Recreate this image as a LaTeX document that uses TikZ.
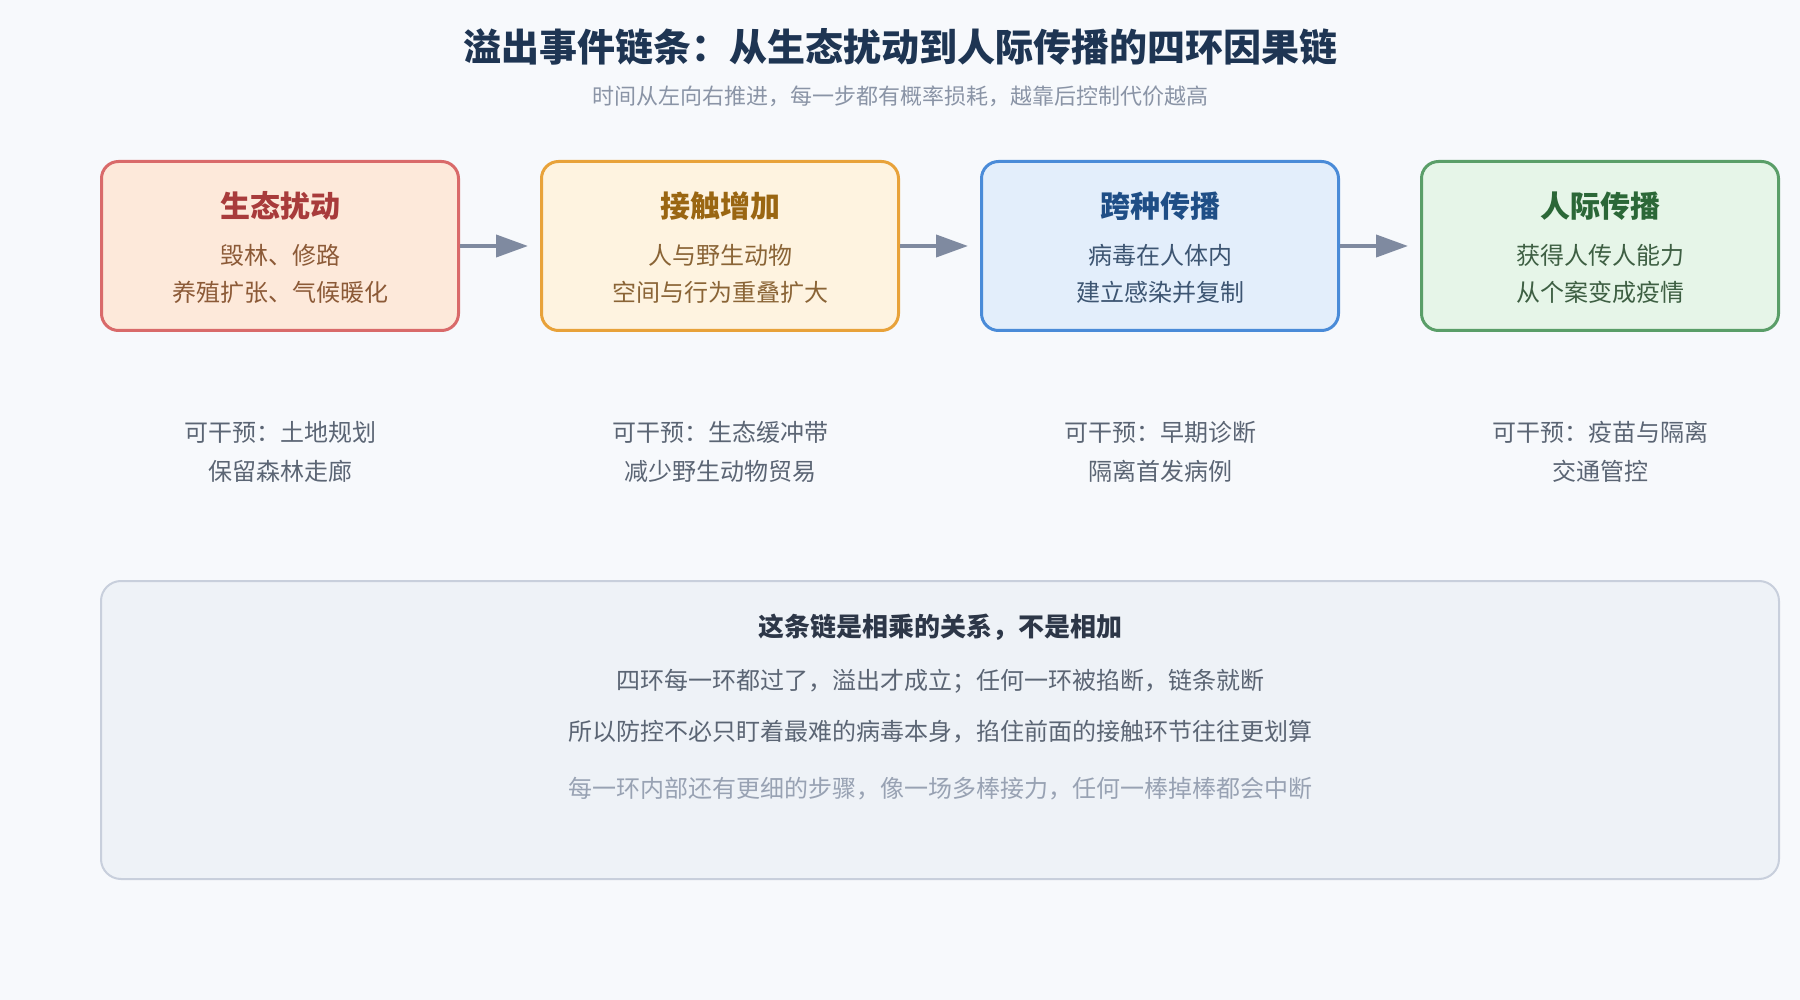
\documentclass[tikz,border=0pt]{standalone}
\usepackage{fontspec}
\setmainfont{Noto Sans CJK SC}
\usetikzlibrary{positioning,arrows.meta}
\definecolor{pagebg}{HTML}{F7F9FC}
\definecolor{headtxt}{HTML}{1E3553}
\definecolor{subtxt}{HTML}{8A94A6}
\definecolor{flowgray}{HTML}{7F8AA0}
\definecolor{cuttxt}{HTML}{5B6574}
\definecolor{ecofill}{HTML}{FDE9DA}
\definecolor{ecoline}{HTML}{D96A6A}
\definecolor{ecohead}{HTML}{A83B3B}
\definecolor{ecotxt}{HTML}{8C5A37}
\definecolor{confill}{HTML}{FEF3E0}
\definecolor{conline}{HTML}{E8A23A}
\definecolor{conhead}{HTML}{9A6612}
\definecolor{contxt}{HTML}{8A6436}
\definecolor{spifill}{HTML}{E3EEFB}
\definecolor{spiline}{HTML}{4A8BD8}
\definecolor{spihead}{HTML}{1F4E86}
\definecolor{spitxt}{HTML}{3D5572}
\definecolor{humfill}{HTML}{E6F5E8}
\definecolor{humline}{HTML}{5A9E68}
\definecolor{humhead}{HTML}{2B6737}
\definecolor{humtxt}{HTML}{3E5F43}
\definecolor{notefill}{HTML}{EEF2F7}
\definecolor{noteline}{HTML}{C8CFDC}
\definecolor{notehead}{HTML}{2D3748}
\definecolor{notelight}{HTML}{98A2B3}

\begin{document}
\begin{tikzpicture}[x=1pt,y=-1pt,
			stage/.style={draw,rectangle,rounded corners=17pt,line width=3pt,minimum width=357pt,minimum height=169pt},
			stagetitle/.style={font=\fontsize{30}{36}\selectfont\bfseries},
			stagebody/.style={align=center,font=\fontsize{24}{37}\selectfont},
			cut/.style={align=center,text=cuttxt,font=\fontsize{24}{39}\selectfont},
			noteline/.style={text=cuttxt,font=\fontsize{24}{30}\selectfont},
			flow/.style={draw=flowgray,line width=4pt,-{Triangle[length=32pt,width=22pt]}}]
			\fill [pagebg] (0,0) rectangle (1800,1000);
			\useasboundingbox (0,0) rectangle (1800,1000);

			\node (head) [text=headtxt,font=\fontsize{38}{46}\selectfont\bfseries] at (900,47) {溢出事件链条：从生态扰动到人际传播的四环因果链};
			\node (subhead) [text=subtxt,font=\fontsize{22}{27}\selectfont] at (900,96) {时间从左向右推进，每一步都有概率损耗，越靠后控制代价越高};

			\node (eco) [stage,draw=ecoline,fill=ecofill] at (280,246) {};
			\node (contact) [stage,draw=conline,fill=confill,right=80pt of eco] {};
			\node (spill) [stage,draw=spiline,fill=spifill,right=80pt of contact] {};
			\node (human) [stage,draw=humline,fill=humfill,right=80pt of spill] {};

			\node (ecohead) [stagetitle,text=ecohead] at ([yshift=-46pt]eco.north) {生态扰动};
			\node (ecobody) [stagebody,text=ecotxt] at ([yshift=-28pt]eco.center) {毁林、修路\\养殖扩张、气候暖化};
			\node (conhead) [stagetitle,text=conhead] at ([yshift=-46pt]contact.north) {接触增加};
			\node (conbody) [stagebody,text=contxt] at ([yshift=-28pt]contact.center) {人与野生动物\\空间与行为重叠扩大};
			\node (spihead) [stagetitle,text=spihead] at ([yshift=-46pt]spill.north) {跨种传播};
			\node (spibody) [stagebody,text=spitxt] at ([yshift=-28pt]spill.center) {病毒在人体内\\建立感染并复制};
			\node (humhead) [stagetitle,text=humhead] at ([yshift=-46pt]human.north) {人际传播};
			\node (humbody) [stagebody,text=humtxt] at ([yshift=-28pt]human.center) {获得人传人能力\\从个案变成疫情};

			\draw [flow] (eco.east) -- ([xshift=-12pt]contact.west);
			\draw [flow] (contact.east) -- ([xshift=-12pt]spill.west);
			\draw [flow] (spill.east) -- ([xshift=-12pt]human.west);

			\node (ecocut) [cut] at ([yshift=-120pt]eco.south) {可干预：土地规划\\保留森林走廊};
			\node (concut) [cut] at ([yshift=-120pt]contact.south) {可干预：生态缓冲带\\减少野生动物贸易};
			\node (spicut) [cut] at ([yshift=-120pt]spill.south) {可干预：早期诊断\\隔离首发病例};
			\node (humcut) [cut] at ([yshift=-120pt]human.south) {可干预：疫苗与隔离\\交通管控};

			\node (note) [draw=noteline,fill=notefill,line width=2pt,rounded corners=20pt,minimum width=1678pt,minimum height=298pt] at (940,730) {};
			\node (notehead) [text=notehead,font=\fontsize{26}{32}\selectfont\bfseries] at ([yshift=-47pt]note.north) {这条链是相乘的关系，不是相加};
			\node (noteone) [noteline] at ([yshift=-101pt]note.north) {四环每一环都过了，溢出才成立；任何一环被掐断，链条就断};
			\node (notetwo) [noteline] at ([yshift=-152pt]note.north) {所以防控不必只盯着最难的病毒本身，掐住前面的接触环节往往更划算};
			\node (notethree) [noteline,text=notelight] at ([yshift=-209pt]note.north) {每一环内部还有更细的步骤，像一场多棒接力，任何一棒掉棒都会中断};
		\end{tikzpicture}
\end{document}
